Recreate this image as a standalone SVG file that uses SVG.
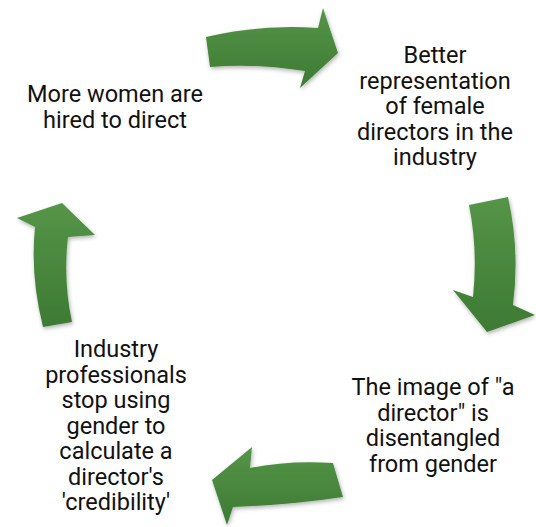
<svg xmlns="http://www.w3.org/2000/svg" width="536" height="527" viewBox="0 0 536 527">
<defs>
<linearGradient id="g" x1="0" y1="0" x2="0" y2="1">
<stop offset="0" stop-color="#559548"/>
<stop offset="1" stop-color="#3d7a33"/>
</linearGradient>
<filter id="sh" x="-20%" y="-20%" width="140%" height="140%">
<feDropShadow dx="1" dy="2" stdDeviation="2" flood-color="#000" flood-opacity="0.3"/>
</filter>
</defs>
<style>
.arr{fill:url(#g);filter:url(#sh)}
.t{font-family:Roboto,"Liberation Sans",sans-serif;font-size:23.5px;fill:#111;text-anchor:middle}
</style>
<g id="connectors">
<path class="arr" d="M206,37 Q260,24 318,28 L323,8 L338,53 L300,88 L305,71 Q255,63 210,67 Z"/>
<path class="arr" d="M508,197 Q520,250 513,305 L535,315 L487,332 L453,290 L473,297 Q478,250 469,205 Z"/>
<path class="arr" d="M343,497 Q290,505 233,507 L227,525 L212,480 L252,447 L250,468 Q290,460 333,463 Z"/>
<path class="arr" d="M43,327 Q30,275 35,227 L17,218 L62,203 L95,235 L68,237 Q63,280 72,322 Z"/>
</g>
<g id="node1">
<text class="t" x="115" y="102">More women are</text>
<text class="t" x="115" y="127.5">hired to direct</text>
</g>
<g id="node2">
<text class="t" x="435" y="63">Better</text>
<text class="t" x="435" y="88.5">representation</text>
<text class="t" x="435" y="114">of female</text>
<text class="t" x="435" y="139.5">directors in the</text>
<text class="t" x="435" y="165">industry</text>
</g>
<g id="node3">
<text class="t" x="433" y="395">The image of "a</text>
<text class="t" x="433" y="420.5">director" is</text>
<text class="t" x="433" y="446">disentangled</text>
<text class="t" x="433" y="471.5">from gender</text>
</g>
<g id="node4">
<text class="t" x="116" y="357">Industry</text>
<text class="t" x="116" y="382.5">professionals</text>
<text class="t" x="116" y="408">stop using</text>
<text class="t" x="116" y="433.5">gender to</text>
<text class="t" x="116" y="459">calculate a</text>
<text class="t" x="116" y="484.5">director's</text>
<text class="t" x="116" y="510">'credibility'</text>
</g>
</svg>
